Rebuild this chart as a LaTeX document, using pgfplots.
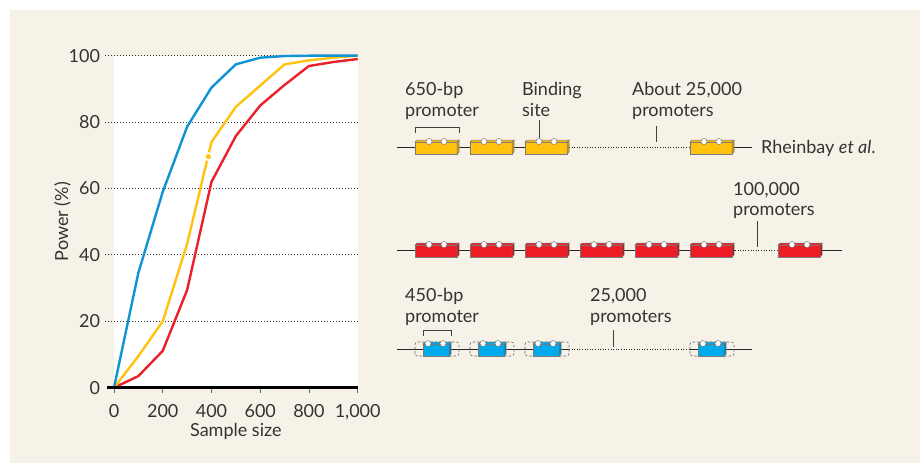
\documentclass[border=0pt]{standalone}
\usepackage{pgfplots}
\pgfplotsset{compat=1.18}
\usepackage{fontspec}
\setmainfont{Lato}
\definecolor{bg}{HTML}{F6F2E7}
\definecolor{cblue}{HTML}{1093D2}
\definecolor{cyellow}{HTML}{FFC20E}
\definecolor{cred}{HTML}{E8212B}
\definecolor{byellow}{HTML}{FFC20E}
\definecolor{syellow}{HTML}{C99A0A}
\definecolor{bred}{HTML}{ED1C24}
\definecolor{sred}{HTML}{B0151C}
\definecolor{bblue}{HTML}{00AAEB}
\definecolor{sblue}{HTML}{0082BA}
\definecolor{edge}{HTML}{7A7A7A}
\definecolor{txt}{HTML}{333333}
\newcommand\lbl{\fontsize{18}{21}\selectfont}
% full-size promoter box: #1 left x, #2 line y, #3 fill, #4 side
\newcommand{\pbox}[4]{%
  \filldraw[fill=#3, draw=edge, line width=0.5pt] (axis cs:#1,#2) ++(0pt,-7pt) -- ++(42pt,0pt) -- ++(0pt,12pt) -- ++(-42pt,0pt) -- cycle;
  \filldraw[fill=#3, draw=edge, line width=0.5pt] (axis cs:#1,#2) ++(0pt,5pt) -- ++(2pt,2pt) -- ++(42pt,0pt) -- ++(-2pt,-2pt) -- cycle;
  \filldraw[fill=#4, draw=edge, line width=0.5pt] (axis cs:#1,#2) ++(42pt,5pt) -- ++(2pt,2pt) -- ++(0pt,-12pt) -- ++(-2pt,-2pt) -- cycle;
  \filldraw[fill=white, draw=edge, line width=0.5pt] (axis cs:#1,#2) ++(14pt,5.5pt) circle[radius=3pt];
  \filldraw[fill=white, draw=edge, line width=0.5pt] (axis cs:#1,#2) ++(29pt,5.5pt) circle[radius=3pt];
}
% 450-bp box inside dashed 650-bp frame
\newcommand{\bbox}[2]{%
  \draw[edge!80!black, dash pattern=on 2.5pt off 1.8pt, line width=0.6pt, rounded corners=2.5pt] (axis cs:#1,#2) ++(0pt,-7pt) rectangle ++(44pt,14pt);
  \filldraw[fill=bblue, draw=edge, line width=0.5pt] (axis cs:#1,#2) ++(8pt,-7pt) -- ++(26pt,0pt) -- ++(0pt,12pt) -- ++(-26pt,0pt) -- cycle;
  \filldraw[fill=bblue, draw=edge, line width=0.5pt] (axis cs:#1,#2) ++(8pt,5pt) -- ++(2pt,2pt) -- ++(26pt,0pt) -- ++(-2pt,-2pt) -- cycle;
  \filldraw[fill=sblue, draw=edge, line width=0.5pt] (axis cs:#1,#2) ++(34pt,5pt) -- ++(2pt,2pt) -- ++(0pt,-12pt) -- ++(-2pt,-2pt) -- cycle;
  \filldraw[fill=white, draw=edge, line width=0.5pt] (axis cs:#1,#2) ++(13pt,5.5pt) circle[radius=3pt];
  \filldraw[fill=white, draw=edge, line width=0.5pt] (axis cs:#1,#2) ++(28pt,5.5pt) circle[radius=3pt];
}
\begin{document}
\begin{tikzpicture}
% ---------- background + diagram (1 unit = 1 px) ----------
\begin{axis}[at={(0pt,0pt)}, anchor=south west, scale only axis,
  width=922pt, height=464pt, xmin=0, xmax=922, ymin=0, ymax=464,
  y dir=reverse, axis lines=none, clip=false]
  \fill[white] (axis cs:0,0) rectangle (axis cs:922,464);
  \fill[bg] (axis cs:10,10) rectangle (axis cs:920,463);
  % ----- row 1 (yellow) -----
  \draw[black!85, line width=0.9pt] (axis cs:397,147.5) -- (axis cs:569,147.5);
  \draw[black!85, line width=1pt, dash pattern=on 1pt off 1.6pt] (axis cs:569,147.5) -- (axis cs:690,147.5);
  \draw[black!85, line width=0.9pt] (axis cs:690,147.5) -- (axis cs:752,147.5);
  \pbox{415}{147}{byellow}{syellow}
  \pbox{470}{147}{byellow}{syellow}
  \pbox{525}{147}{byellow}{syellow}
  \pbox{690}{147}{byellow}{syellow}
  \draw[black!75, line width=0.8pt] (axis cs:415,133) -- (axis cs:415,127) -- (axis cs:459,127) -- (axis cs:459,133);
  \draw[black!75, line width=0.8pt] (axis cs:539,120) -- (axis cs:539,138);
  \draw[black!75, line width=0.8pt] (axis cs:656,126) -- (axis cs:656,142);
  \node[anchor=base west, inner sep=0pt, font=\lbl, text=txt] at (axis cs:405,95) {650-bp};
  \node[anchor=base west, inner sep=0pt, font=\lbl, text=txt] at (axis cs:405,116) {promoter};
  \node[anchor=base west, inner sep=0pt, font=\lbl, text=txt] at (axis cs:522,95) {Binding};
  \node[anchor=base west, inner sep=0pt, font=\lbl, text=txt] at (axis cs:522,116) {site};
  \node[anchor=base west, inner sep=0pt, font=\lbl, text=txt] at (axis cs:632,95) {About 25,000};
  \node[anchor=base west, inner sep=0pt, font=\lbl, text=txt] at (axis cs:632,116) {promoters};
  \node[anchor=base west, inner sep=0pt, font=\lbl, text=txt] at (axis cs:761,153) {Rheinbay \textit{et al}.};
  % ----- row 2 (red) -----
  \draw[black!85, line width=0.9pt] (axis cs:397,250) -- (axis cs:735,250);
  \draw[black!85, line width=1pt, dash pattern=on 1pt off 1.6pt] (axis cs:735,250) -- (axis cs:778,250);
  \draw[black!85, line width=0.9pt] (axis cs:778,250) -- (axis cs:842,250);
  \pbox{415}{250}{bred}{sred}
  \pbox{470}{250}{bred}{sred}
  \pbox{525}{250}{bred}{sred}
  \pbox{580}{250}{bred}{sred}
  \pbox{635}{250}{bred}{sred}
  \pbox{690}{250}{bred}{sred}
  \pbox{778}{250}{bred}{sred}
  \draw[black!75, line width=0.8pt] (axis cs:757,221) -- (axis cs:757,247);
  \node[anchor=base west, inner sep=0pt, font=\lbl, text=txt] at (axis cs:733,195) {100,000};
  \node[anchor=base west, inner sep=0pt, font=\lbl, text=txt] at (axis cs:733,215) {promoters};
  % ----- row 3 (blue) -----
  \draw[black!85, line width=0.9pt] (axis cs:397,349) -- (axis cs:569,349);
  \draw[black!85, line width=1pt, dash pattern=on 1pt off 1.6pt] (axis cs:569,349) -- (axis cs:690,349);
  \draw[black!85, line width=0.9pt] (axis cs:690,349) -- (axis cs:752,349);
  \bbox{415}{349}
  \bbox{470}{349}
  \bbox{525}{349}
  \bbox{690}{349}
  \draw[black!75, line width=0.8pt] (axis cs:423,336) -- (axis cs:423,330) -- (axis cs:451,330) -- (axis cs:451,336);
  \draw[black!75, line width=0.8pt] (axis cs:613,330) -- (axis cs:613,347);
  \node[anchor=base west, inner sep=0pt, font=\lbl, text=txt] at (axis cs:405,301) {450-bp};
  \node[anchor=base west, inner sep=0pt, font=\lbl, text=txt] at (axis cs:405,322) {promoter};
  \node[anchor=base west, inner sep=0pt, font=\lbl, text=txt] at (axis cs:590,301) {25,000};
  \node[anchor=base west, inner sep=0pt, font=\lbl, text=txt] at (axis cs:590,322) {promoters};
\end{axis}
% ---------- power curves ----------
\begin{axis}[at={(114pt,76.3pt)}, anchor=south west, scale only axis,
  width=243.7pt, height=332pt,
  xmin=0, xmax=1000, ymin=0, ymax=100, clip=false,
  axis x line=bottom, axis y line=left,
  axis line style={-},
  x axis line style={draw=none},
  y axis line style={draw=none},
  axis background/.style={fill=white},
  xtick={0,200,...,1000}, ytick={0,20,...,100},
  tick align=outside, major tick length=5pt,
  xtick style={black!60, line width=0.8pt},
  ytick style={draw=none},
  /pgf/number format/assume math mode=true,
  /pgf/number format/1000 sep={,},
  tick label style={font=\lbl, text=txt},
  xticklabel style={anchor=base, yshift=-25pt},
  yticklabel style={xshift=-5.5pt},
  xlabel={Sample size}, ylabel={Power (\%)},
  label style={font=\lbl, text=txt},
  xlabel style={at={(axis cs:500,0)}, anchor=base, yshift=-49pt},
  ylabel style={at={(axis cs:-188,50)}, anchor=base, rotate=0},
]
  \draw[black!80, line width=1pt, dash pattern=on 1pt off 2pt] (axis cs:-35,20) -- (axis cs:1008,20);
  \draw[black!80, line width=1pt, dash pattern=on 1pt off 2pt] (axis cs:-35,40) -- (axis cs:1008,40);
  \draw[black!80, line width=1pt, dash pattern=on 1pt off 2pt] (axis cs:-35,60) -- (axis cs:1008,60);
  \draw[black!80, line width=1pt, dash pattern=on 1pt off 2pt] (axis cs:-35,80) -- (axis cs:1008,80);
  \draw[black!80, line width=1pt, dash pattern=on 1pt off 2pt] (axis cs:-35,100) -- (axis cs:1008,100);
  \addplot[cred, line width=2.4pt, line join=round] coordinates {
    (0,0) (100,3.5) (200,11.1) (300,29.4) (400,62) (500,75.8) (600,85) (700,91.2) (800,96.9) (900,98.1) (1000,99)};
  \addplot[cyellow, line width=2.4pt, line join=round] coordinates {
    (0,0) (100,9.5) (200,20) (300,43.3) (400,74) (500,84.6) (600,91) (700,97.4) (800,98.6) (900,99.4) (1000,100)};
  \addplot[cblue, line width=2.4pt, line join=round] coordinates {
    (0,0) (100,34.6) (200,59) (300,78.6) (400,90.4) (500,97.4) (600,99.4) (700,99.9) (800,100) (900,100) (1000,100)};
  \addplot[only marks, mark=*, mark size=3.6pt, mark options={fill=cyellow, draw=white, line width=1.6pt}] coordinates {(387,69.6)};
  \draw[black, line width=2.6pt] (axis cs:-27,0) -- (axis cs:1000,0);
\end{axis}
\end{tikzpicture}
\end{document}
